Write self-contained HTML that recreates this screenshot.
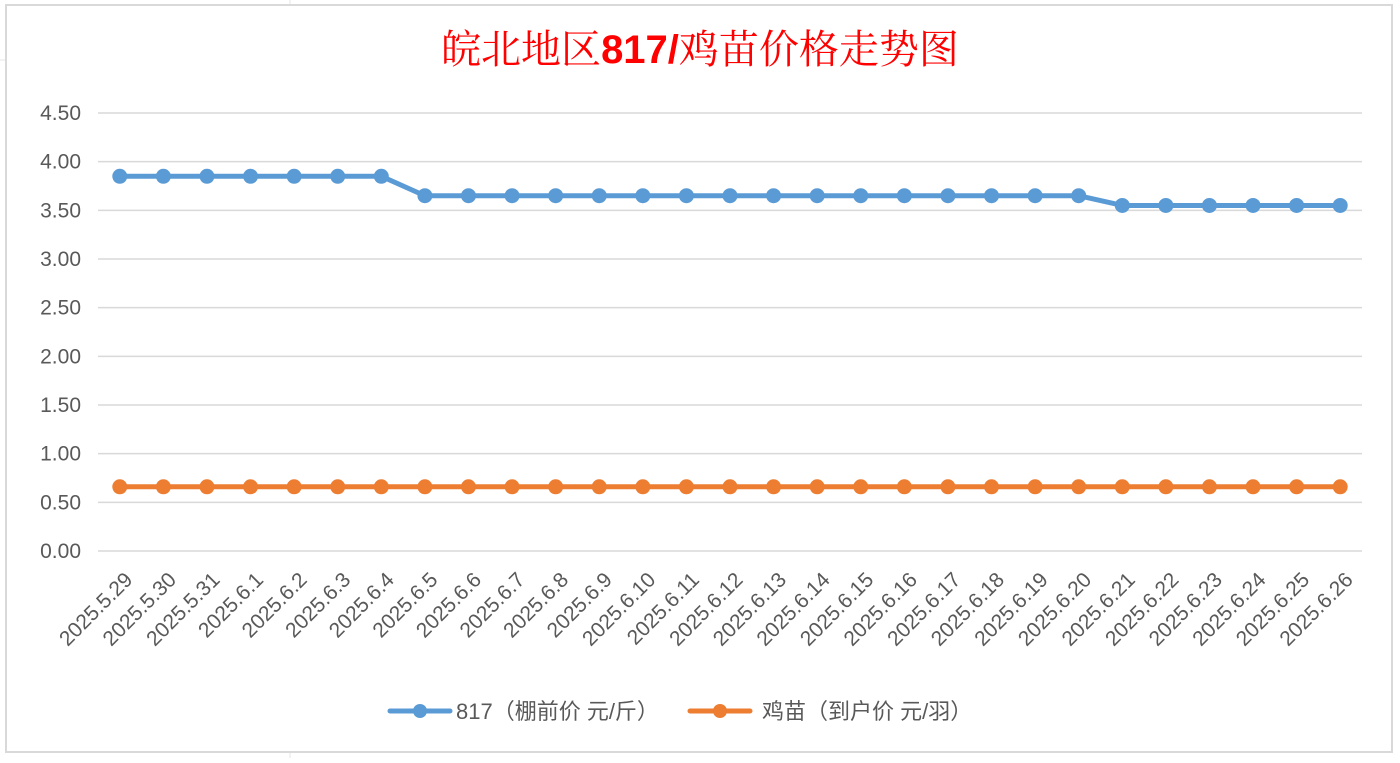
<!DOCTYPE html>
<html><head><meta charset="utf-8"><style>
html,body{margin:0;padding:0;background:#fff;}
body{width:1400px;height:758px;overflow:hidden;font-family:"Liberation Sans","Noto Sans CJK SC",sans-serif;}
</style></head><body>
<svg id="chart" width="1400" height="758" xmlns="http://www.w3.org/2000/svg">
  <g stroke="#e4e4e4" stroke-width="1">
    <line x1="290" y1="0" x2="290" y2="758"/><line x1="0" y1="60" x2="6" y2="60"/>
  </g>
  <rect x="6" y="5" width="1386" height="747" fill="#fff" stroke="#d9d9d9" stroke-width="2"/>
  <text x="700" y="63" text-anchor="middle" font-size="40" fill="#ff0000" font-family="'Noto Serif CJK SC','Liberation Serif',serif">皖北地区<tspan font-family="'Liberation Sans',sans-serif" font-weight="bold">817/</tspan>鸡苗价格走势图</text>
  <g id="grid"></g><g id="yticks"></g><g id="xticks"></g><g id="series"></g>
  <g font-size="22" fill="#595959">
    <g>
      <line x1="390" y1="711" x2="450" y2="711" stroke="#5b9bd5" stroke-width="5" stroke-linecap="round"/>
      <circle cx="420" cy="711" r="7" fill="#5b9bd5"/>
      <text x="456" y="719" font-family="'Liberation Sans','Noto Sans CJK SC',sans-serif">817（棚前价 元/斤）</text>
    </g>
    <g>
      <line x1="690" y1="711" x2="750" y2="711" stroke="#ed7d31" stroke-width="5" stroke-linecap="round"/>
      <circle cx="720" cy="711" r="7" fill="#ed7d31"/>
      <text x="762" y="719" font-family="'Liberation Sans','Noto Sans CJK SC',sans-serif">鸡苗（到户价 元/羽）</text>
    </g>
  </g>
</svg>
<script>
const categories=["2025.5.29","2025.5.30","2025.5.31","2025.6.1","2025.6.2","2025.6.3","2025.6.4","2025.6.5","2025.6.6","2025.6.7","2025.6.8","2025.6.9","2025.6.10","2025.6.11","2025.6.12","2025.6.13","2025.6.14","2025.6.15","2025.6.16","2025.6.17","2025.6.18","2025.6.19","2025.6.20","2025.6.21","2025.6.22","2025.6.23","2025.6.24","2025.6.25","2025.6.26"];
const price817=[3.85,3.85,3.85,3.85,3.85,3.85,3.85,3.65,3.65,3.65,3.65,3.65,3.65,3.65,3.65,3.65,3.65,3.65,3.65,3.65,3.65,3.65,3.65,3.55,3.55,3.55,3.55,3.55,3.55];
const chickPrice=[0.66,0.66,0.66,0.66,0.66,0.66,0.66,0.66,0.66,0.66,0.66,0.66,0.66,0.66,0.66,0.66,0.66,0.66,0.66,0.66,0.66,0.66,0.66,0.66,0.66,0.66,0.66,0.66,0.66];
const yTickLabels=["0.00","0.50","1.00","1.50","2.00","2.50","3.00","3.50","4.00","4.50"];
const NS="http://www.w3.org/2000/svg";
const L=98,R=1362,T=113,B=551,YMAX=4.5;
const bw=(R-L)/categories.length;
function x(i){return L+bw*(i+0.5);}
function y(v){return B-(v/YMAX)*(B-T);}
function mk(tag,attrs,parent){const e=document.createElementNS(NS,tag);for(const k in attrs)e.setAttribute(k,attrs[k]);parent.appendChild(e);return e;}
const grid=document.getElementById('grid'),yt=document.getElementById('yticks'),xt=document.getElementById('xticks'),ser=document.getElementById('series');
yTickLabels.forEach(t=>{const v=parseFloat(t);
 const g=mk('line',{x1:L,x2:R,y1:y(v),y2:y(v),stroke:'#d9d9d9','stroke-width':1.5},grid);
 
 
 const tx=mk('text',{x:81,y:y(v)+7,'text-anchor':'end','font-size':21,fill:'#595959'},yt);
 tx.textContent=t;
 
 
});
categories.forEach((c,i)=>{const cx=x(i)+14,cy=B+30;
 const tx=mk('text',{x:cx,y:cy,'text-anchor':'end','font-size':21,fill:'#595959',transform:`rotate(-45 ${cx} ${cy})`},xt);
 tx.textContent=c;
 
 
});
function drawSeries(vals,color,name){
 const g=mk('g',{},ser);
 
 
 const p=mk('polyline',{points:vals.map((v,i)=>x(i)+','+y(v)).join(' '),fill:'none',stroke:color,'stroke-width':5,'stroke-linejoin':'round'},g);
 
 
 vals.forEach((v,i)=>{const c=mk('circle',{cx:x(i),cy:y(v),r:7.5,fill:color},g);
  
  });
}
drawSeries(price817,'#5b9bd5','series-817');
drawSeries(chickPrice,'#ed7d31','series-chick');
</script>
</body></html>
